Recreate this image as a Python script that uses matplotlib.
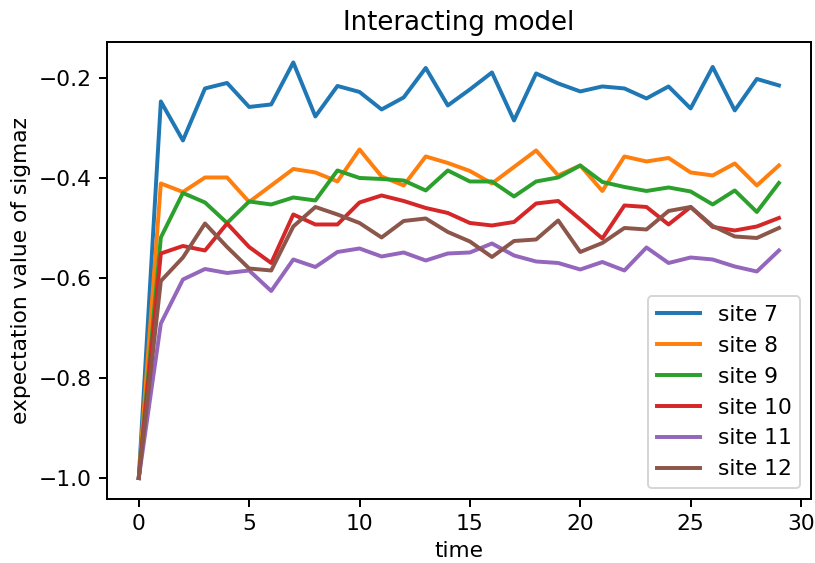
import numpy as np
from matplotlib import pyplot as plt

# expectation values, t = 0..29
time = np.arange(30)

site7 = [-1.0, -0.247, -0.325, -0.221, -0.210, -0.258, -0.253, -0.169, -0.277, -0.216,
         -0.228, -0.263, -0.239, -0.180, -0.255, -0.223, -0.189, -0.285, -0.191, -0.211,
         -0.227, -0.217, -0.221, -0.241, -0.217, -0.261, -0.178, -0.265, -0.202, -0.215]
site8 = [-1.0, -0.411, -0.428, -0.399, -0.399, -0.448, -0.415, -0.382, -0.389, -0.407,
         -0.343, -0.397, -0.415, -0.357, -0.370, -0.386, -0.411, -0.378, -0.345, -0.395,
         -0.375, -0.426, -0.357, -0.367, -0.360, -0.389, -0.395, -0.371, -0.415, -0.375]
site9 = [-1.0, -0.519, -0.430, -0.449, -0.490, -0.447, -0.453, -0.439, -0.445, -0.385,
         -0.400, -0.402, -0.405, -0.425, -0.385, -0.407, -0.407, -0.437, -0.407, -0.399,
         -0.375, -0.408, -0.418, -0.426, -0.419, -0.427, -0.453, -0.425, -0.468, -0.410]
site10 = [-1.0, -0.551, -0.536, -0.545, -0.491, -0.538, -0.570, -0.473, -0.493, -0.493,
          -0.449, -0.435, -0.446, -0.460, -0.470, -0.490, -0.495, -0.488, -0.451, -0.446,
          -0.483, -0.521, -0.455, -0.458, -0.493, -0.458, -0.498, -0.505, -0.497, -0.480]
site11 = [-1.0, -0.691, -0.603, -0.582, -0.590, -0.585, -0.626, -0.563, -0.578, -0.548,
          -0.541, -0.557, -0.549, -0.565, -0.551, -0.549, -0.531, -0.555, -0.567, -0.570,
          -0.583, -0.568, -0.585, -0.539, -0.570, -0.559, -0.563, -0.577, -0.587, -0.545]
site12 = [-1.0, -0.606, -0.559, -0.491, -0.538, -0.581, -0.585, -0.497, -0.458, -0.473,
          -0.490, -0.519, -0.486, -0.481, -0.508, -0.527, -0.558, -0.526, -0.523, -0.485,
          -0.548, -0.530, -0.500, -0.503, -0.466, -0.458, -0.496, -0.517, -0.520, -0.500]

series = [site7, site8, site9, site10, site11, site12]
labels = ["site 7", "site 8", "site 9", "site 10", "site 11", "site 12"]

plt.rcParams['font.size'] = 11
plt.rcParams['lines.linewidth'] = 2.0
plt.rcParams['axes.linewidth'] = 1.0
plt.rcParams['xtick.major.width'] = 1.0
plt.rcParams['ytick.major.width'] = 1.0
plt.rcParams['xtick.major.size'] = 4
plt.rcParams['ytick.major.size'] = 4

fig = plt.figure(figsize=(815/142, 563/142), dpi=142)
ax = fig.add_axes([0.131, 0.114, 0.864, 0.812])
for y, lbl in zip(series, labels):
    ax.plot(time, y, label=lbl)
ax.set_title("Interacting model")
ax.set_xlabel("time")
ax.set_ylabel("expectation value of sigmaz")
ax.legend(loc="lower right")
fig.savefig("out.png", dpi=142)
